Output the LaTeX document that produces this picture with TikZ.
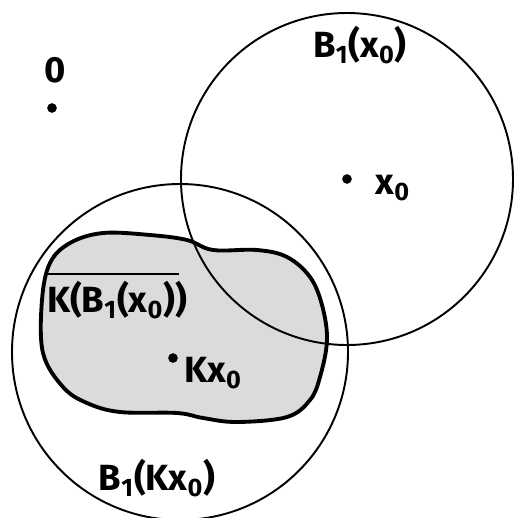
\documentclass[tikz,border=0pt]{standalone}
\usepackage{fontspec}
\setmainfont{Fira Sans}
\begin{document}
\begin{tikzpicture}[x=0.02cm, y=-0.02cm,
    ball/.style ={draw, line width=1.1pt},
    point/.style ={circle, fill, inner sep=0pt, minimum size=5.5pt},
    lbl/.style ={font=\huge\bfseries, inner sep=1pt}]
   \useasboundingbox (0,0) rectangle (515,518);
   \clip (0,0) rectangle (515,518);

   % the image of the ball
   \def\blob{plot[smooth cycle, tension=0.6] coordinates {
     (42,300) (50,263) (70,243) (103,233) (150,235) (187,240) (213,250)
     (257,250) (287,257) (310,277) (322,305) (327,340) (320,377) (310,400)
     (287,417) (237,422) (203,418) (177,413) (120,412) (87,403) (63,387)
     (43,353)}}
   \fill[gray!28] \blob;

   \node[point] (kx) at (173,358) {};
   \node[point] (x)  at (347,179) {};
   \node[point] (o)  at (52,108) {};

   \draw[ball] (x) circle (166);
   \draw[ball] (180,352) circle (168);

   \draw[line width=2.2pt] \blob;

   \node[lbl] (olbl)   at (55,70)   {0};
   \node[lbl] (xlbl)   at (393,188) {x\textsubscript{0}};
   \node[lbl] (kxlbl)  at (213,373) {Kx\textsubscript{0}};
   \node[lbl] (bx)     at (360,45)  {B\textsubscript{1}(x\textsubscript{0})};
   \node[lbl] (bkx)    at (157,478) {B\textsubscript{1}(Kx\textsubscript{0})};
   \node[lbl] (kb)     at (117,300) {K(B\textsubscript{1}(x\textsubscript{0}))};
   \draw[line width=1.6pt] ([xshift=2pt,yshift=3pt]kb.north west) -- ([xshift=-6pt,yshift=3pt]kb.north east);
 \end{tikzpicture}
\end{document}
